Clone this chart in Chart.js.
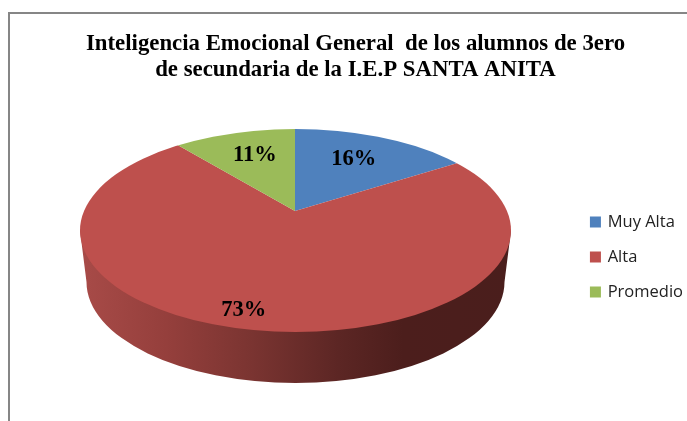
<!DOCTYPE html>
<html>
<head>
<meta charset="utf-8">
<script src="https://cdn.jsdelivr.net/npm/chart.js@4"></script>
<style>
html, body { margin: 0; padding: 0; background: #fff; overflow: hidden; }
#frame { position: absolute; left: 8px; top: 12px; width: 700px; height: 430px; border-left: 2px solid #868686; border-top: 2px solid #868686; }
#wrap { position: absolute; left: 0; top: 0; width: 687px; height: 421px; }
</style>
</head>
<body>
<div id="frame"></div>
<div id="wrap"><canvas id="myChart" width="687" height="421"></canvas></div>
<script>
const categories = ['Muy Alta', 'Alta', 'Promedio'];
const values = [16, 73, 11];
const colors = ['#4f81bd', '#be504d', '#9bbb59'];
const titleLines = ['Inteligencia Emocional General  de los alumnos de 3ero', 'de secundaria de la I.E.P SANTA ANITA'];

// LOOK OF THE TILTED PIE
const apex = { x: 295, y: 211 };
const tilt = 0.465;
const top_ = { x: 295.5, y: 230.5, rx: 215.5, ry: 101.5 };
const bottom_ = { x: 295.5, y: 282, rx: 209, ry: 101 };
const labelR = [130, 212, 130];
const labelNudge = [-4, -18, 4];

const tiltedPie = {
    id: 'tiltedPie',
    // SIDE WALL FIRST, THEN THE SLICES SQUASHED AND CLIPPED TO THE TOP ELLIPSE
    beforeDatasetsDraw(chart) {
        const ctx = chart.ctx;
        const arc = chart.getDatasetMeta(0).data[0];

        const wall = ctx.createLinearGradient(top_.x - top_.rx, 0, top_.x + top_.rx, 0);
        wall.addColorStop(0, '#a84b48');
        wall.addColorStop(0.2, '#953f3c');
        wall.addColorStop(0.4, '#7a3431');
        wall.addColorStop(0.6, '#5c2624');
        wall.addColorStop(0.75, '#4c1e1c');
        wall.addColorStop(1, '#4a1e1c');
        ctx.save();
        ctx.beginPath();
        ctx.moveTo(top_.x - top_.rx, top_.y);
        ctx.lineTo(bottom_.x - bottom_.rx, bottom_.y);
        ctx.ellipse(bottom_.x, bottom_.y, bottom_.rx, bottom_.ry, 0, Math.PI, 0, true);
        ctx.lineTo(top_.x + top_.rx, top_.y);
        ctx.closePath();
        ctx.fillStyle = wall;
        ctx.fill();
        ctx.restore();

        const s = 340 / arc.outerRadius;
        ctx.save();
        ctx.beginPath();
        ctx.ellipse(top_.x, top_.y, top_.rx, top_.ry, 0, 0, Math.PI * 2);
        ctx.clip();
        ctx.translate(apex.x, apex.y);
        ctx.scale(s, s * tilt);
        ctx.translate(-arc.x, -arc.y);
    },
    afterDatasetsDraw(chart) {
        const ctx = chart.ctx;
        ctx.restore();

        ctx.save();
        ctx.font = 'bold 22.5px "Liberation Serif"';
        ctx.fillStyle = '#000';
        ctx.textAlign = 'center';
        ctx.textBaseline = 'middle';
        chart.getDatasetMeta(0).data.forEach((arc, i) => {
            const mid = (arc.startAngle + arc.endAngle) / 2;
            const x = apex.x + labelR[i] * Math.cos(mid) + labelNudge[i];
            const y = apex.y + labelR[i] * Math.sin(mid) * tilt + 1.5;
            ctx.fillText(values[i] + '%', x, y);
        });
        ctx.restore();
    }
};

const ctx = document.getElementById('myChart').getContext('2d');
const chart2 = new Chart(ctx, {
    type: 'pie',
    data: {
        labels: categories,
        datasets: [{
            data: values,
            backgroundColor: colors,
            borderWidth: 0,
            clip: false
        }]
    },
    options: {
        responsive: false,
        animation: false,
        layout: { padding: { left: 18, right: -6, top: 31, bottom: -62 } },
        plugins: {
            title: {
                display: true,
                text: titleLines,
                color: '#000',
                font: { family: '"Liberation Serif"', size: 22.8, weight: 'bold', lineHeight: 1.14 },
                padding: { top: 0, bottom: 10 }
            },
            legend: {
                position: 'right',
                labels: {
                    boxWidth: 8,
                    boxHeight: 11,
                    usePointStyle: true,
                    pointStyle: 'rect',
                    padding: 18.5,
                    color: '#222',
                    font: { family: '"Open Sans"', size: 16.5 }
                }
            },
            tooltip: { enabled: false }
        }
    },
    plugins: [tiltedPie]
});
</script>
</body>
</html>
